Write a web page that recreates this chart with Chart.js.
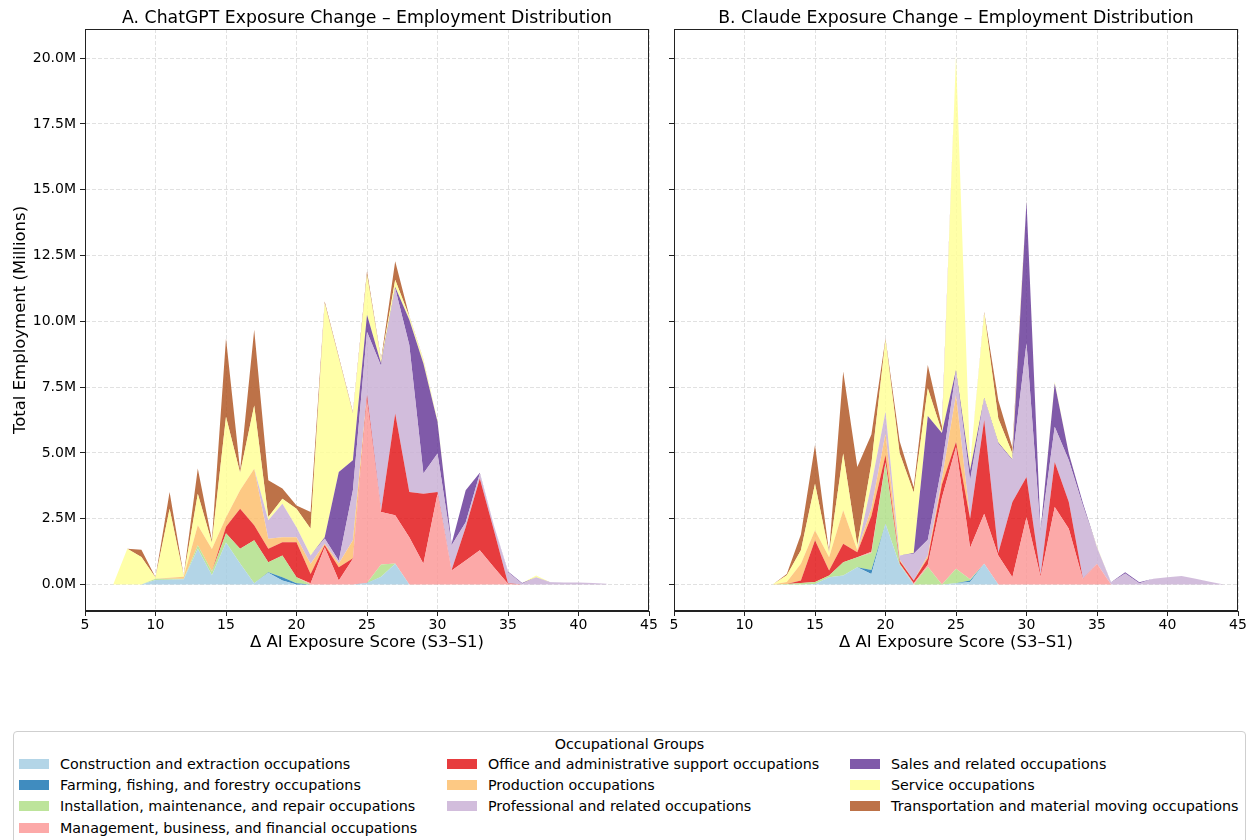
<!DOCTYPE html>
<html><head><meta charset="utf-8">
<script src="https://cdn.jsdelivr.net/npm/chart.js@4/dist/chart.umd.min.js"></script>
<style>
html,body{margin:0;padding:0;background:#fff;}
body{width:1257px;height:840px;position:relative;overflow:hidden;font-family:"DejaVu Sans",sans-serif;color:#000;}
canvas{position:absolute;top:0;}
.ptitle{position:absolute;top:7px;width:564px;font-size:17.3px;line-height:20px;text-align:center;white-space:nowrap;}
#legend{position:absolute;left:13px;top:731px;width:1233px;height:130px;border:1px solid #cfcfcf;border-radius:4px;box-sizing:border-box;}
#legend .lt{position:absolute;left:0;width:100%;top:3px;text-align:center;font-size:14.3px;line-height:18px;}
#legend .it{position:absolute;font-size:14.3px;line-height:18px;white-space:nowrap;}
#legend .sw{position:absolute;width:30px;height:10px;}
</style>
</head><body>
<canvas id="cA" width="660" height="660" style="left:0px"></canvas>
<canvas id="cB" width="597" height="660" style="left:660px"></canvas>
<div class="ptitle" style="left:85px">A. ChatGPT Exposure Change – Employment Distribution</div>
<div class="ptitle" style="left:674px">B. Claude Exposure Change – Employment Distribution</div>
<div id="legend"><div class="lt">Occupational Groups</div></div>
<script>
const GROUPS = [
  "Construction and extraction occupations",
  "Farming, fishing, and forestry occupations",
  "Installation, maintenance, and repair occupations",
  "Management, business, and financial occupations",
  "Office and administrative support occupations",
  "Production occupations",
  "Professional and related occupations",
  "Sales and related occupations",
  "Service occupations",
  "Transportation and material moving occupations"
];
const COLORS = ["#a6cee3","#1f78b4","#b2df8a","#fb9a99","#e31a1c","#fdbf6f","#cab2d6","#6a3d9a","#ffff99","#b15928"];
const X_TICKS = [5,10,15,20,25,30,35,40,45];
const Y_TICKS = [0,2.5,5,7.5,10,12.5,15,17.5,20];

// Panel A: ChatGPT, x = 7..42 (millions)
const xA = [7,8,9,10,11,12,13,14,15,16,17,18,19,20,21,22,23,24,25,26,27,28,29,30,31,32,33,34,35,36,37,38,39,40,41,42];
const A_construction = [0,0,0,0.17,0.18,0.20,1.36,0.35,1.60,0.80,0.05,0.45,0.15,0,0,0,0,0,0.05,0.30,0.79,0,0,0,0,0,0,0,0,0,0,0,0,0,0,0];
const A_farming      = [0,0,0,0,0,0,0,0,0,0,0,0.02,0.13,0.05,0,0,0,0,0.01,0,0,0,0,0,0,0,0,0,0,0,0,0,0,0,0,0];
const A_installation = [0,0,0,0.05,0.04,0.02,0.13,0.15,0.35,0.56,1.63,0.38,0.82,0.23,0,0,0,0,0,0.46,0.01,0,0,0,0,0,0,0,0,0,0,0,0,0,0,0];
const A_management   = [0,0,0,0,0,0,0,0,0,0,0,0,0,0,0.05,1.42,0.15,0.98,6.94,2.0,1.83,1.8,0.79,3.45,0.53,0.91,1.3,0.66,0.03,0,0,0,0,0,0,0];
const A_office       = [0,0,0,0,0,0,0,0,0.25,1.52,0.57,0.51,0.51,1.33,0.35,0.08,0.51,0.02,0.2,0.04,3.87,1.72,2.66,0.07,0.02,1.27,2.73,1.4,0.02,0,0,0,0,0,0,0];
const A_production   = [0,0,0,0,0.04,0.08,0.76,0.85,0.35,0.7,2.15,0.38,0.19,0.19,0.39,0.05,0.14,0.68,0,0,0,0,0,0,0,0,0,0,0,0,0,0,0,0,0,0];
const A_professional = [0,0,0,0,0,0,0,0,0,0,0,0.7,1.27,0.38,0.31,0.2,0.1,1.9,2.4,5.5,4.76,5.58,0.77,1.46,0.94,0.19,0.19,0.19,0.42,0.03,0.28,0.08,0.08,0.08,0.06,0.03];
const A_sales        = [0,0,0,0,0,0,0,0,0,0,0,0,0,0,0,0.05,3.38,1.14,0.65,0.1,0.04,0.96,4.18,1.2,0.06,1.21,0.03,0,0.03,0.03,0,0.01,0,0,0,0];
const A_service      = [0,1.36,1.05,0.05,2.62,0.02,1.2,0.25,3.82,0.67,2.4,0.13,0.19,0.7,1.02,8.89,4.32,1.78,1.52,0.1,0.28,0.12,0.13,0.07,0,0,0,0,0,0,0.06,0,0,0,0,0];
const A_transport    = [0,0,0.27,0.01,0.64,0.01,0.96,0.08,2.99,0.1,2.88,1.39,0.39,0.12,0.64,0.06,0.05,0.05,0.13,0.05,0.7,0.02,0.02,0,0,0,0,0,0,0,0,0,0,0,0,0];

// Panel B: Claude, x = 12..44 (millions)
const xB = [12,13,14,15,16,17,18,19,20,21,22,23,24,25,26,27,28,29,30,31,32,33,34,35,36,37,38,39,40,41,42,43,44];
const B_construction = [0,0,0,0.02,0.28,0.34,0.66,0.4,2.31,0.75,0,0,0,0.05,0.1,0.79,0,0,0,0,0,0,0,0,0,0,0,0,0,0,0,0,0];
const B_farming      = [0,0,0,0,0,0,0,0.15,0,0,0,0,0,0,0.05,0,0,0,0,0,0,0,0,0,0,0,0,0,0,0,0,0,0];
const B_installation = [0,0.02,0.06,0.08,0.06,0.51,0.38,0.65,2.29,0.05,0,0.68,0,0.55,0.05,0,0,0,0,0,0,0,0,0,0,0,0,0,0,0,0,0,0];
const B_management   = [0,0,0,0,0,0,0,0.05,0.05,0,0.05,0.07,3.3,4.63,1.2,1.9,1.1,0.28,2.56,0.3,2.95,2.12,0.2,0.79,0,0,0,0,0,0,0,0,0];
const B_office       = [0,0,0.09,1.58,0.19,0.7,0.19,1.35,0.26,0.1,0.1,0.25,0.5,0.19,1.1,3.56,0.1,2.86,1.53,0.05,1.71,1.02,0.02,0,0,0,0,0,0,0,0,0,0];
const B_production   = [0,0.08,0.64,0.38,0.51,1.27,0.07,0.3,0.83,0.05,0,0.1,0.2,1.78,0,0,0,0,0,0,0,0,0,0,0,0,0,0,0,0,0,0,0];
const B_professional = [0,0,0,0,0,0,0,0.9,0.82,0.15,1.02,0.6,0.5,0.89,1.46,0.82,4.16,1.58,5.08,1.65,1.33,1.58,2.78,0.63,0.08,0.42,0.05,0.22,0.28,0.32,0.22,0.11,0];
const B_sales        = [0,0,0,0,0,0,0,0,0,0,0.03,4.7,1.26,0.06,0.38,0.03,0.04,0.03,5.4,0.06,1.65,0.26,0.1,0,0.01,0.05,0.04,0,0,0,0,0,0];
const B_service      = [0,0.25,0.51,1.77,0.16,2.16,0.19,0.8,2.74,3.9,2.3,1.06,0.04,11.95,0.26,3.21,0.91,0.23,0.03,0.04,0.06,0.02,0,0.03,0,0,0,0,0,0,0,0,0];
const B_transport    = [0,0.05,0.6,1.47,0.03,3.11,2.98,1.1,0.05,0.45,0.2,0.88,0.2,0,0,0.04,0.69,0.22,0,0,0,0,0,0,0,0,0,0,0,0,0,0,0];

const seriesA = [A_construction,A_farming,A_installation,A_management,A_office,A_production,A_professional,A_sales,A_service,A_transport];
const seriesB = [B_construction,B_farming,B_installation,B_management,B_office,B_production,B_professional,B_sales,B_service,B_transport];

function rgba(hex,a){const n=parseInt(hex.slice(1),16);return `rgba(${n>>16&255},${n>>8&255},${n&255},${a})`;}
const FONT = "'DejaVu Sans', sans-serif";

const framePlugin = {
  id:'frame',
  afterDraw(chart){
    const {ctx, chartArea:a} = chart;
    ctx.save(); ctx.strokeStyle='#222'; ctx.lineWidth=1;
    ctx.strokeRect(Math.round(a.left)+0.5, Math.round(a.top)+0.5, Math.round(a.right-a.left)-1, Math.round(a.bottom-a.top)-1);
    ctx.restore();
  }
};

function build(id, xs, series, opts){
  const datasets = series.map((vals,k)=>({
    label: GROUPS[k],
    data: xs.map((x,i)=>({x:x, y:vals[i]})),
    backgroundColor: rgba(COLORS[k],0.85),
    borderColor: 'rgba(0,0,0,0)',
    borderWidth: 1,
    pointRadius: 0,
    tension: 0,
    fill: k===0 ? 'origin' : '-1'
  }));
  const gridCommon = {color:'rgba(128,128,128,0.3)', lineWidth:0.8, tickLength:5, tickColor:'#222', tickWidth:1, tickBorderDash:[]};
  return new Chart(document.getElementById(id), {
    type:'line',
    data:{datasets},
    options:{
      responsive:false, animation:false, devicePixelRatio:1,
      layout:{padding:{left:0, right:opts.padRight, top:29, bottom:0}},
      plugins:{legend:{display:false}, tooltip:{enabled:false}, title:{display:false}},
      scales:{
        x:{
          type:'linear', min:5, max:45,
          afterBuildTicks:s=>{s.ticks = X_TICKS.map(v=>({value:v}));},
          afterFit:s=>{s.height = 49;},
          grid:gridCommon,
          border:{display:true, color:'#222', width:1, dash:[4,2]},
          ticks:{font:{family:FONT,size:14}, color:'#000', padding:1, maxRotation:0, autoSkip:false},
          title:{display:true, text:'Δ AI Exposure Score (S3–S1)', font:{family:FONT,size:16.5}, color:'#000', padding:{top:0,bottom:7}},
          z:1
        },
        y:{
          stacked:true, min:-1.005, max:21.105,
          afterBuildTicks:s=>{s.ticks = Y_TICKS.map(v=>({value:v}));},
          afterFit:s=>{s.width = opts.yWidth;},
          grid:gridCommon,
          border:{display:true, color:'#222', width:1, dash:[4,2]},
          ticks:{display:opts.yLabels, font:{family:FONT,size:14}, color:'#000', padding:4, callback:v=>v.toFixed(1)+'M'},
          title:{display:opts.yLabels, text:'Total Employment (Millions)', font:{family:FONT,size:16.5}, color:'#000', padding:{top:11,bottom:0}},
          z:1
        }
      }
    },
    plugins:[framePlugin]
  });
}

build('cA', xA, seriesA, {padRight:11, yWidth:85, yLabels:true});
build('cB', xB, seriesB, {padRight:19, yWidth:14, yLabels:false});

// HTML legend (3 columns, column-major like the reference)
const leg = document.getElementById('legend');
const colX = [5, 433, 836];
const rowY = [23, 44, 65, 87];
const perCol = [4,3,3];
let k = 0;
for (let c=0;c<3;c++){
  for (let r=0;r<perCol[c];r++){
    const sw = document.createElement('div');
    sw.className='sw'; sw.style.left=colX[c]+'px'; sw.style.top=(rowY[r]+4)+'px';
    sw.style.background = rgba(COLORS[k],0.85);
    leg.appendChild(sw);
    const t = document.createElement('div');
    t.className='it'; t.style.left=(colX[c]+41)+'px'; t.style.top=(rowY[r])+'px';
    t.textContent = GROUPS[k];
    leg.appendChild(t);
    k++;
  }
}
</script>
</body></html>
